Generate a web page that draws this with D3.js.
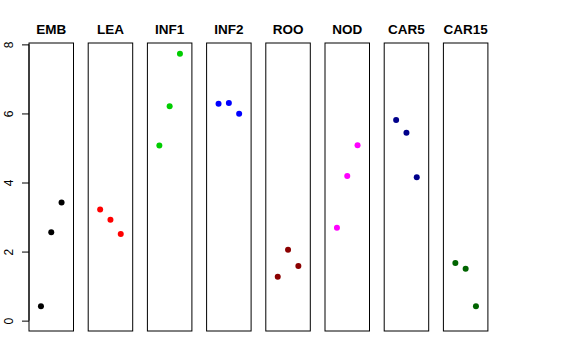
<!DOCTYPE html>
<html>
<head>
<meta charset="utf-8">
<script src="https://cdn.jsdelivr.net/npm/d3@7"></script>
<style>
  html, body { margin: 0; padding: 0; background: #fff; }
  svg { display: block; }
</style>
</head>
<body>
<svg id="chart" width="576" height="360"></svg>
<script>
const categories = ["EMB", "LEA", "INF1", "INF2", "ROO", "NOD", "CAR5", "CAR15"];
const colors = ["#000000", "#FF0000", "#00CD00", "#0000FF", "#8B0000", "#FF00FF", "#00008B", "#006400"];
const replicate = [1, 2, 3];
const valuesEMB = [0.42, 2.56, 3.42];
const valuesLEA = [3.22, 2.92, 2.51];
const valuesINF1 = [5.07, 6.21, 7.73];
const valuesINF2 = [6.28, 6.30, 5.99];
const valuesROO = [1.27, 2.05, 1.58];
const valuesNOD = [2.69, 4.19, 5.08];
const valuesCAR5 = [5.81, 5.44, 4.15];
const valuesCAR15 = [1.67, 1.50, 0.42];
const yTicks = [0, 2, 4, 6, 8];

const series = [valuesEMB, valuesLEA, valuesINF1, valuesINF2, valuesROO, valuesNOD, valuesCAR5, valuesCAR15];

const svg = d3.select("#chart");
const plotTop = 43, plotBottom = 331, panelW = 44.5, firstLeft = 29, step = 59.2;

const y = d3.scaleLinear().domain([-0.30, 8.04]).range([plotBottom, plotTop]);
const x = d3.scaleLinear().domain([-0.16, 4.16]).range([0, panelW]);

categories.forEach((cat, i) => {
  const left = firstLeft + i * step;
  const g = svg.append("g").attr("transform", `translate(${left},0)`);
  g.append("rect")
    .attr("x", 0).attr("y", plotTop)
    .attr("width", panelW).attr("height", plotBottom - plotTop)
    .attr("fill", "none").attr("stroke", "#000").attr("stroke-width", 1);
  g.append("text")
    .attr("x", panelW / 2).attr("y", 34)
    .attr("text-anchor", "middle")
    .attr("font-family", "Liberation Sans, Arial, sans-serif")
    .attr("font-weight", "bold")
    .attr("font-size", 13.5)
    .text(cat);
  g.selectAll("circle")
    .data(series[i].map((v, j) => ({ x: replicate[j], v })))
    .enter().append("circle")
    .attr("cx", d => x(d.x))
    .attr("cy", d => y(d.v))
    .attr("r", 3)
    .attr("fill", colors[i]);
});

// y axis
const axisG = svg.append("g").attr("transform", `translate(${firstLeft},0)`);
axisG.call(d3.axisLeft(y).tickValues(yTicks).tickSize(7).tickFormat(d3.format("d")));
axisG.select(".domain").attr("d", `M0,${y(0)}V${y(8)}`).attr("stroke", "#000");
axisG.selectAll(".tick line").attr("stroke", "#000");
axisG.selectAll(".tick text")
  .attr("x", null).attr("dy", null)
  .attr("transform", "translate(-16.5,0) rotate(-90)")
  .attr("text-anchor", "middle")
  .attr("font-family", "Liberation Sans, Arial, sans-serif")
  .attr("font-size", 12)
  .attr("fill", "#000");
</script>
</body>
</html>
